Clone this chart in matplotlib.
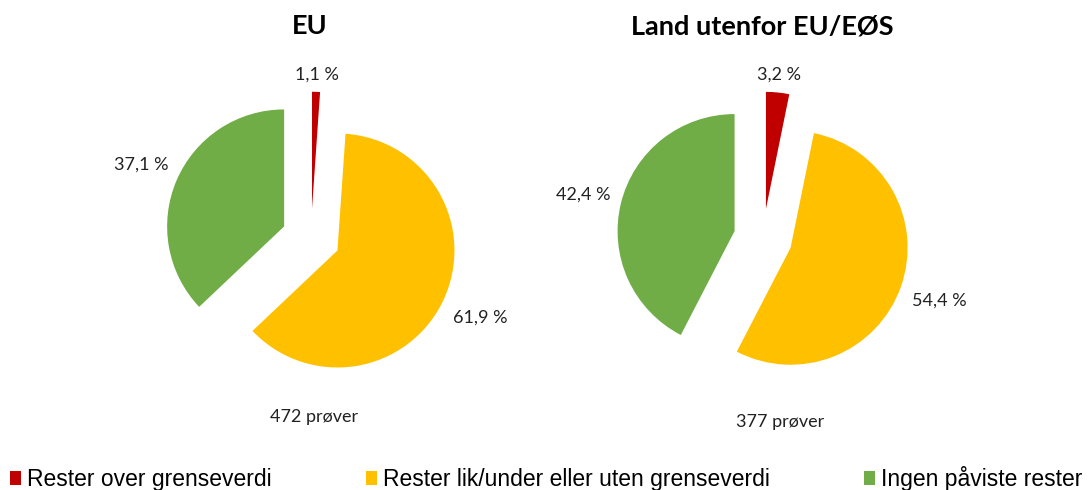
import numpy as np
import matplotlib.pyplot as plt
from matplotlib.patches import Patch

plt.rcParams['font.family'] = ['Lato', 'DejaVu Sans']

categories = ['Rester over grenseverdi',
              'Rester lik/under eller uten grenseverdi',
              'Ingen påviste rester']
colors = ['#C00000', '#FFC000', '#70AD47']

titles = ['EU', 'Land utenfor EU/EØS']
eu_values = [1.1, 61.9, 37.1]
non_eu_values = [3.2, 54.4, 42.4]
samples = [472, 377]

W, H = 1091, 490
fig = plt.figure(figsize=(W / 100, H / 100), dpi=100)

R = 117          # pie radius in px
L = 1.6          # axes half-range in data units
size = 2 * L * R
centers = [(311, 238), (763, 238)]
label_dist = [1.15, 1.35, 1.33]
sample_pos = [(0.03, -1.53), (0.15, -1.57)]


def fmt(v):
    return f"{v:.1f} %".replace('.', ',')


for i, values in enumerate([eu_values, non_eu_values]):
    cx, cy = centers[i]
    ax = fig.add_axes([(cx - size / 2) / W, (H - cy - size / 2) / H, size / W, size / H])
    wedges, _ = ax.pie(values, colors=colors, startangle=90, counterclock=False,
                       explode=[0.25, 0.25, 0.25], radius=1,
                       wedgeprops=dict(linewidth=0))
    ax.set_xlim(-L, L)
    ax.set_ylim(-L, L)
    ax.set_aspect('equal')
    ax.axis('off')
    for w, v, d in zip(wedges, values, label_dist):
        a = np.deg2rad((w.theta1 + w.theta2) / 2)
        x0, y0 = w.center
        ax.text(x0 + d * np.cos(a), y0 + d * np.sin(a), fmt(v),
                ha='center', va='center', fontsize=13, color='#222222')
    ax.text(-0.01, 1.81, titles[i], ha='center', va='center',
            fontsize=19.5, fontweight='bold', color='black')
    sx, sy = sample_pos[i]
    ax.text(sx, sy, f"{samples[i]} prøver", ha='center', va='center',
            fontsize=13, color='#222222')

handles = [Patch(facecolor=c, edgecolor='none') for c in colors]
fig.legend(handles, categories, loc='lower left', bbox_to_anchor=(10 / W, -1 / H),
           ncol=3, frameon=False, prop={'family': 'Liberation Sans', 'size': 16.5},
           handlelength=0.5, handleheight=0.6, handletextpad=0.25,
           columnspacing=4.1, borderaxespad=0, borderpad=0)

fig.savefig('out.png', dpi=100)
